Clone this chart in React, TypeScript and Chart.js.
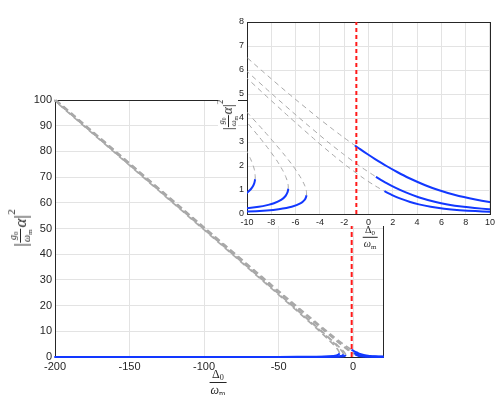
import React, { useEffect, useRef } from 'react';
import { Chart, registerables } from 'chart.js';

Chart.register(...registerables);

// ---------- data ----------
const MAIN_X_TICKS = [-200, -150, -100, -50, 0];
const MAIN_Y_TICKS = [0, 10, 20, 30, 40, 50, 60, 70, 80, 90, 100];
const INSET_X_TICKS = [-10, -8, -6, -4, -2, 0, 2, 4, 6, 8, 10];
const INSET_Y_TICKS = [0, 1, 2, 3, 4, 5, 6, 7, 8];

const RED_LINE: [number, number][] = [[-1, 0], [-1, 100]];

// highest drive
const P1_upperDashed: [number, number][] = [[-199.23, 100], [-98.9, 50], [-48.45, 25], [-28.0, 15], [-17.55, 10], [-13.26, 8], [-11.07, 7], [-8.84, 6], [-6.54, 5], [-4.13, 4], [-2.86, 3.5], [-2.07, 3.2], [-1.11, 2.85]];
const P1_upperSolid: [number, number][] = [[-1.11, 2.85], [-0.69, 2.7], [-0.1, 2.5], [0.51, 2.3], [1.48, 2.0], [2.36, 1.75], [3.32, 1.5], [4.67, 1.2], [5.75, 1.0], [7.06, 0.8], [8.8, 0.6], [9.95, 0.5], [11.45, 0.4], [13.54, 0.3], [16.92, 0.2], [19.7, 0.15], [20.42, 0.14]];
const P1_middleDashed: [number, number][] = [[-9.33, 1.45], [-9.322, 1.55], [-9.37, 1.8], [-9.48, 2.0], [-9.71, 2.3], [-10.0, 2.6], [-10.47, 3.0], [-11.87, 4.0], [-13.46, 5.0], [-16.93, 7.0], [-22.45, 10], [-32.0, 15], [-51.55, 25], [-101.1, 50], [-200.78, 100]];
const P1_lowerSolid: [number, number][] = [[-200.0, 0.0015], [-100.0, 0.006], [-50.05, 0.024], [-24.69, 0.1], [-17.72, 0.2], [-13.05, 0.4], [-11.2, 0.6], [-10.26, 0.8], [-9.97, 0.9], [-9.75, 1.0], [-9.59, 1.1], [-9.47, 1.2], [-9.39, 1.3], [-9.33, 1.45]];

// middle drive
const P2_upperDashed: [number, number][] = [[-199.54, 100], [-99.35, 50], [-49.08, 25], [-28.81, 15], [-18.54, 10], [-14.37, 8], [-12.26, 7], [-10.12, 6], [-7.94, 5], [-5.69, 4], [-3.34, 3], [-2.08, 2.5], [-0.74, 2], [0.61, 1.55]];
const P2_upperSolid: [number, number][] = [[0.61, 1.55], [1.45, 1.3], [2.2, 1.1], [3.07, 0.9], [4.12, 0.7], [5.53, 0.5], [6.5, 0.4], [7.83, 0.3], [8.73, 0.25], [9.92, 0.2], [11.62, 0.15], [14.39, 0.1], [17.3, 0.07], [20.54, 0.05]];
const P2_middleDashed: [number, number][] = [[-6.6, 1.05], [-6.61, 1.2], [-6.7, 1.4], [-6.85, 1.6], [-7.04, 1.8], [-7.51, 2.2], [-8.21, 2.7], [-8.98, 3.2], [-9.97, 3.8], [-11.18, 4.5], [-13.88, 6], [-17.63, 8], [-25.33, 12], [-50.92, 25], [-100.65, 50], [-200.46, 100]];
const P2_lowerSolid: [number, number][] = [[-200.5, 0.00053], [-100.7, 0.0021], [-50.08, 0.0085], [-24.74, 0.035], [-14.79, 0.1], [-12.22, 0.15], [-10.72, 0.2], [-9.03, 0.3], [-8.25, 0.38], [-7.78, 0.45], [-7.16, 0.6], [-6.83, 0.75], [-6.67, 0.9], [-6.62, 1.0], [-6.6, 1.05]];

// lowest drive
const P3_upperDashed: [number, number][] = [[-199.69, 100], [-99.56, 50], [-49.37, 25], [-29.19, 15], [-19.01, 10], [-14.89, 8], [-12.82, 7], [-10.72, 6], [-8.6, 5], [-6.43, 4], [-4.19, 3], [-3.02, 2.5], [-1.79, 2], [-0.44, 1.5], [0.46, 1.2], [1.31, 0.95]];
const P3_upperSolid: [number, number][] = [[1.31, 0.95], [1.9, 0.8], [2.58, 0.65], [3.43, 0.5], [4.15, 0.4], [5.12, 0.3], [6.23, 0.22], [7.51, 0.16], [8.8, 0.12], [9.97, 0.095], [11.69, 0.07], [13.9, 0.05], [16.66, 0.035], [20.16, 0.024]];
const P3_middleDashed: [number, number][] = [[-5.105, 0.78], [-5.1, 0.9], [-5.13, 1.0], [-5.26, 1.2], [-5.56, 1.5], [-6.21, 2], [-6.98, 2.5], [-7.81, 3], [-8.67, 3.5], [-9.93, 4.2], [-11.4, 5], [-15.18, 7], [-20.99, 10], [-30.81, 15], [-50.63, 25], [-100.44, 50], [-200.31, 100]];
const P3_lowerSolid: [number, number][] = [[-200, 0.000245], [-100, 0.00098], [-50.14, 0.0039], [-24.78, 0.016], [-14.1, 0.05], [-10.1, 0.1], [-8.38, 0.15], [-7.4, 0.2], [-6.32, 0.3], [-5.57, 0.45], [-5.24, 0.6], [-5.14, 0.7], [-5.105, 0.78]];

const SOLID_BRANCHES = [P1_lowerSolid, P1_upperSolid, P2_lowerSolid, P2_upperSolid, P3_lowerSolid, P3_upperSolid];
const DASHED_BRANCHES = [P1_upperDashed, P1_middleDashed, P2_upperDashed, P2_middleDashed, P3_upperDashed, P3_middleDashed];

// ---------- styles ----------
const BLUE = '#1238ff';
const GRAY = '#a9a9a9';
const RED = '#ff1a1a';
const AXIS = '#262626';
const GRID = '#e3e3e3';
const TICK_FONT = '"Liberation Sans", Arial, sans-serif';
const MATH_FONT = '"Liberation Serif", "DejaVu Serif", serif';

const toXY = (arr: [number, number][]) => arr.map(([x, y]) => ({ x, y }));

function buildDatasets(grayWidth: number, dash: number[], redDash: number[]) {
  const ds: any[] = [];
  ds.push({ data: toXY(RED_LINE), borderColor: RED, borderWidth: 2, borderDash: redDash, pointRadius: 0, order: 0, tension: 0 });
  SOLID_BRANCHES.forEach((b) => ds.push({ data: toXY(b), borderColor: BLUE, borderWidth: 2, pointRadius: 0, order: 1, tension: 0.2 }));
  DASHED_BRANCHES.forEach((b) => ds.push({ data: toXY(b), borderColor: GRAY, borderWidth: grayWidth, borderDash: dash, pointRadius: 0, order: 2, tension: 0.2 }));
  return ds;
}

function boxPlugin(whiteBand: number | null) {
  return {
    id: 'box',
    beforeDraw(chart: any) {
      if (whiteBand === null) return;
      const { ctx, chartArea: a } = chart;
      ctx.save();
      ctx.fillStyle = '#ffffff';
      ctx.fillRect(a.left, a.top, a.right - a.left, a.bottom - a.top + whiteBand);
      ctx.restore();
    },
    beforeDatasetsDraw(chart: any) {
      const { ctx, chartArea: a } = chart;
      ctx.save();
      ctx.strokeStyle = AXIS;
      ctx.lineWidth = 1;
      ctx.strokeRect(Math.round(a.left) + 0.5, Math.round(a.top) + 0.5, Math.round(a.right - a.left), Math.round(a.bottom - a.top));
      ctx.restore();
    },
  };
}

function makeOptions(o: {
  xMin: number; xMax: number; yMin: number; yMax: number;
  xTicks: number[]; yTicks: number[]; fontSize: number;
  yWidth: number; xHeight: number; padding: any;
}) {
  return {
    responsive: false,
    animation: false,
    events: [],
    layout: { padding: o.padding },
    plugins: { legend: { display: false }, tooltip: { enabled: false } },
    scales: {
      x: {
        type: 'linear',
        min: o.xMin,
        max: o.xMax,
        afterBuildTicks: (s: any) => { s.ticks = o.xTicks.map((v) => ({ value: v })); },
        afterFit: (s: any) => { s.height = o.xHeight; },
        ticks: { color: AXIS, font: { family: TICK_FONT, size: o.fontSize }, padding: 3, maxRotation: 0, autoSkip: false },
        grid: { color: GRID, drawTicks: false },
        border: { display: false },
      },
      y: {
        type: 'linear',
        min: o.yMin,
        max: o.yMax,
        afterBuildTicks: (s: any) => { s.ticks = o.yTicks.map((v) => ({ value: v })); },
        afterFit: (s: any) => { s.width = o.yWidth; },
        ticks: { color: AXIS, font: { family: TICK_FONT, size: o.fontSize }, padding: 3, autoSkip: false },
        grid: { color: GRID, drawTicks: false },
        border: { display: false },
      },
    },
  };
}

const Sub = ({ children }: { children: any }) => (
  <span style={{ fontSize: '0.68em', position: 'relative', top: '0.28em', fontStyle: 'normal', lineHeight: 0 }}>{children}</span>
);

function Frac({ num, den, size }: { num: any; den: any; size: number }) {
  return (
    <span style={{ display: 'flex', flexDirection: 'column', alignItems: 'center', fontSize: size, lineHeight: 1 }}>
      <span style={{ padding: '0 1px 2px', display: 'block' }}>{num}</span>
      <span style={{ borderTop: `1px solid ${AXIS}`, padding: '1px 1px 0', alignSelf: 'stretch', textAlign: 'center', display: 'block' }}>{den}</span>
    </span>
  );
}

function YLabel({ cx, cy, s, bg }: { cx: number; cy: number; s: number; bg?: boolean }) {
  return (
    <div style={{
      position: 'absolute', left: cx, top: cy, transform: 'translate(-50%,-50%) rotate(-90deg)',
      whiteSpace: 'nowrap', fontFamily: MATH_FONT, color: AXIS, display: 'flex', alignItems: 'center',
      lineHeight: 1, background: bg ? '#fff' : 'transparent', padding: bg ? '0 1px' : 0,
    }}>
      <span style={{ fontSize: 19 * s }}>|</span>
      <Frac size={10 * s} num={<><i>g</i><Sub>0</Sub></>} den={<><i>ω</i><Sub>m</Sub></>} />
      <span style={{ fontSize: 17 * s, fontStyle: 'italic', marginLeft: 1 * s }}>α</span>
      <span style={{ fontSize: 19 * s }}>|</span>
      <span style={{ fontSize: 11 * s, alignSelf: 'flex-start', marginTop: -2 * s }}>2</span>
    </div>
  );
}

function XLabel({ cx, cy, s, bg }: { cx: number; cy: number; s: number; bg?: boolean }) {
  return (
    <div style={{
      position: 'absolute', left: cx, top: cy, transform: 'translate(-50%,-50%)',
      whiteSpace: 'nowrap', fontFamily: MATH_FONT, color: AXIS, lineHeight: 1, display: 'flex',
      background: bg ? '#fff' : 'transparent',
    }}>
      <Frac size={12 * s} num={<>Δ<Sub>0</Sub></>} den={<><i>ω</i><Sub>m</Sub></>} />
    </div>
  );
}

export default function App() {
  const mainRef = useRef<HTMLCanvasElement>(null);
  const insetRef = useRef<HTMLCanvasElement>(null);

  useEffect(() => {
    const main = new Chart(mainRef.current as HTMLCanvasElement, {
      type: 'line',
      data: { datasets: buildDatasets(1.6, [6, 4], [5, 3]).map((d) => ({ ...d, clip: { left: 1, top: 1, right: 1, bottom: 3 } })) },
      options: makeOptions({
        xMin: -200, xMax: 20, yMin: 0, yMax: 100,
        xTicks: MAIN_X_TICKS, yTicks: MAIN_Y_TICKS, fontSize: 11,
        yWidth: 55, xHeight: 38, padding: { top: 100, right: 115, left: 0, bottom: 0 },
      }) as any,
      plugins: [boxPlugin(null)],
    } as any);
    const inset = new Chart(insetRef.current as HTMLCanvasElement, {
      type: 'line',
      data: { datasets: buildDatasets(1, [5, 4], [4, 3]).map((d) => ({ ...d, clip: { left: 0, top: 0, right: 0, bottom: 3 } })) },
      options: makeOptions({
        xMin: -10, xMax: 10, yMin: 0, yMax: 8,
        xTicks: INSET_X_TICKS, yTicks: INSET_Y_TICKS, fontSize: 9,
        yWidth: 47, xHeight: 26, padding: { top: 22, right: 5, left: 0, bottom: 0 },
      }) as any,
      plugins: [boxPlugin(12)],
    } as any);
    return () => { main.destroy(); inset.destroy(); };
  }, []);

  return (
    <div style={{ position: 'fixed', left: 0, top: 0, width: 498, height: 395, background: '#fff', overflow: 'hidden' }}>
      <canvas ref={mainRef} width={498} height={395} style={{ position: 'absolute', left: 0, top: 0 }} />
      <XLabel cx={218} cy={382} s={1} />
      <YLabel cx={20} cy={228} s={1} />
      <canvas ref={insetRef} width={298} height={240} style={{ position: 'absolute', left: 200, top: 0 }} />
      <XLabel cx={370} cy={237} s={0.85} />
      <YLabel cx={228} cy={115} s={0.8} bg />
    </div>
  );
}
